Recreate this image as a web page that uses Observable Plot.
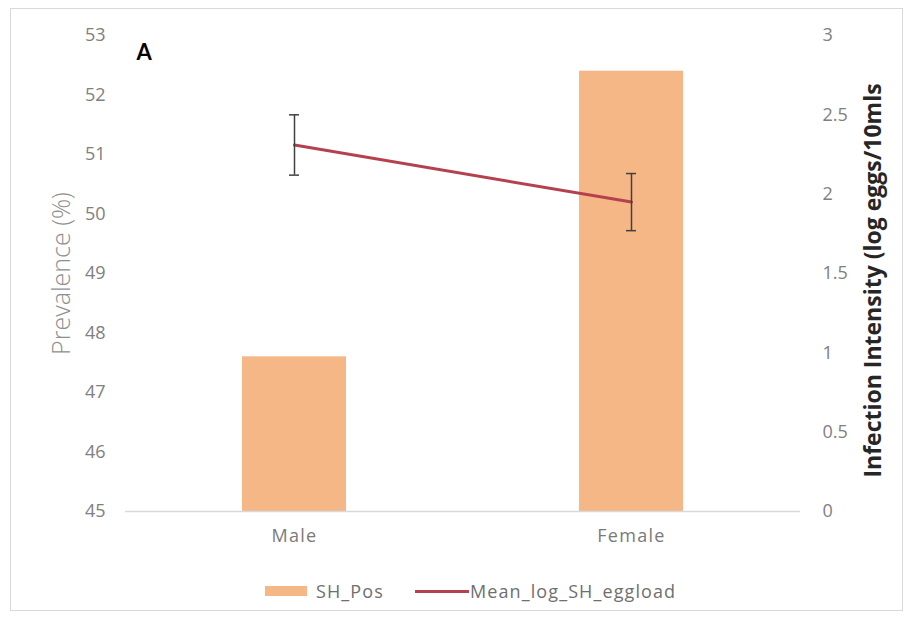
<!DOCTYPE html>
<html><head><meta charset="utf-8">
<script src="https://cdn.jsdelivr.net/npm/d3@7"></script>
<script src="https://cdn.jsdelivr.net/npm/@observablehq/plot@0.6"></script>
<style>
body{margin:0;background:#fff;font-family:"Open Sans",Lato,sans-serif;}
#wrap{position:relative;width:909px;height:622px;overflow:hidden;}
#frame{position:absolute;left:10px;top:8px;width:893px;height:603px;border:1px solid #d9d9d9;box-sizing:border-box;pointer-events:none;}
#chart{position:absolute;left:0;top:0;}
#chart [aria-label="x-axis tick label"]{letter-spacing:1.3px;}
#legend{position:absolute;left:0;top:579px;width:909px;height:24px;font-size:18px;line-height:24px;color:#6f6f6f;letter-spacing:1.1px;}
.sw{position:absolute;}
.lt{position:absolute;top:0;}
</style></head><body>
<div id="wrap"><div id="chart"></div><div id="frame"></div><div id="legend"></div></div>
<script>
const categories = ["Male", "Female"];
const prevalence = [47.6, 52.4];          // SH_Pos (%), left axis
const intensity = [2.31, 1.95];           // Mean_log_SH_eggload, right axis
const intensityErr = [0.19, 0.18];
const leftTicks = [45, 46, 47, 48, 49, 50, 51, 52, 53];
const rightTicks = [0, 0.5, 1, 1.5, 2, 2.5, 3];
const seriesNames = ["SH_Pos", "Mean_log_SH_eggload"];
const barColor = "#f6b787";
const lineColor = "#b5414f";

const lMin = leftTicks[0], lMax = leftTicks[leftTicks.length - 1];
const rMin = rightTicks[0], rMax = rightTicks[rightTicks.length - 1];
const toLeft = v => lMin + (v - rMin) * (lMax - lMin) / (rMax - rMin);
const fromLeft = v => rMin + (v - lMin) * (rMax - rMin) / (lMax - lMin);

const data = categories.map((c, i) => ({
  cat: c, prev: prevalence[i],
  mean: toLeft(intensity[i]),
  lo: toLeft(intensity[i] - intensityErr[i]),
  hi: toLeft(intensity[i] + intensityErr[i])
}));

const plot = Plot.plot({
  width: 909, height: 565,
  marginLeft: 125, marginRight: 109, marginTop: 35, marginBottom: 54,
  style: {fontFamily: "'Open Sans', Lato, sans-serif", fontSize: "18px", color: "#7f7f7f", background: "transparent"},
  x: {domain: categories, paddingInner: 0.69, paddingOuter: 0.345, label: null},
  y: {domain: [lMin, lMax], label: null},
  marks: [
    Plot.barY(data, {x: "cat", y1: () => lMin, y2: "prev", fill: barColor}),
    Plot.ruleY([lMin], {stroke: "#d9d9d9", strokeWidth: 1.5}),
    Plot.axisX({tickSize: 0, tickPadding: 18, label: null, fill: "#7a7a7a", fontSize: 18}),
    Plot.axisY(leftTicks, {anchor: "left", tickSize: 0, tickPadding: 20, label: null, fill: "#808080", fontSize: 18,
      tickFormat: d3.format("d")}),
    Plot.axisY(rightTicks.map(toLeft), {anchor: "right", tickSize: 0, tickPadding: 22, label: null, fill: "#808080", fontSize: 18,
      tickFormat: d => d3.format("~g")(+fromLeft(d).toFixed(2))}),
    Plot.line(data, {x: "cat", y: "mean", stroke: lineColor, strokeWidth: 3}),
    Plot.ruleX(data, {x: "cat", y1: "lo", y2: "hi", stroke: "#404040", strokeWidth: 1.5}),
    Plot.tickY(data, {x: "cat", y: "lo", stroke: "#404040", strokeWidth: 1.5, insetLeft: 47, insetRight: 47}),
    Plot.tickY(data, {x: "cat", y: "hi", stroke: "#404040", strokeWidth: 1.5, insetLeft: 47, insetRight: 47}),
    Plot.text(["A"], {frameAnchor: "top-left", dx: 11, dy: 9, fontSize: 22, fontWeight: "bold", fill: "#000", fontFamily: "Lato, sans-serif"}),
    Plot.text(["Prevalence (%)"], {frameAnchor: "left", textAnchor: "middle", rotate: -90, dx: -64, dy: 0, fontSize: 25, fill: "#8f8f8f", fontWeight: 300}),
    Plot.text(["Infection Intensity (log eggs/10mls"], {frameAnchor: "right", textAnchor: "middle", rotate: -90, dx: 73, dy: 7, fontSize: 23, fontWeight: "bold", fill: "#262626"})
  ]
});
document.getElementById("chart").appendChild(plot);

const lg = document.getElementById("legend");
lg.innerHTML =
  `<div class="sw" style="left:265px;top:7px;width:42px;height:10px;background:${barColor}"></div>` +
  `<div class="lt" style="left:316px">${seriesNames[0]}</div>` +
  `<div class="sw" style="left:415px;top:11px;width:54px;height:3px;background:${lineColor}"></div>` +
  `<div class="lt" style="left:470px">${seriesNames[1]}</div>`;
</script>
</body></html>
